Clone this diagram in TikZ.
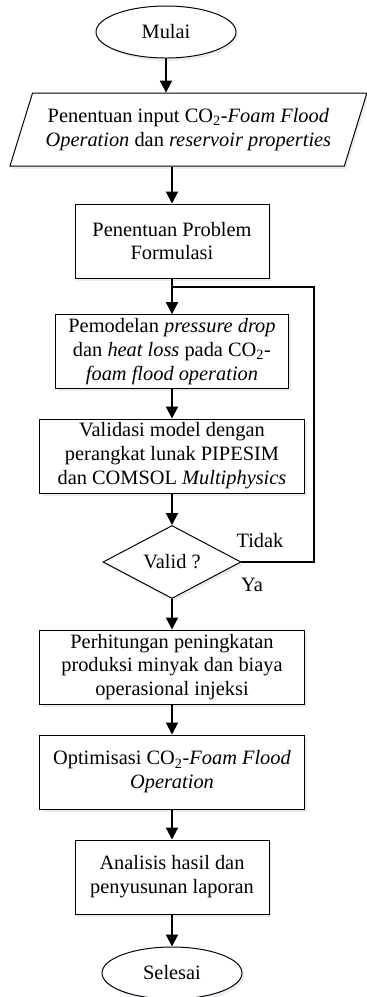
\documentclass[tikz,border=0pt]{standalone}
\usepackage{fontspec}
\setmainfont{Liberation Serif}
\usepackage{tikz}
\usetikzlibrary{shapes.geometric,arrows.meta,shadows}

\begin{document}
\begin{tikzpicture}
  [font=\fontsize{14.5}{17}\selectfont,
   base/.style={draw=black,line width=0.7pt,fill=white,align=center,inner sep=0,
                drop shadow={shadow xshift=0.05cm,shadow yshift=-0.07cm,fill=blue!25!gray!25,opacity=0.5}},
   terminal/.style={base,ellipse,minimum width=3.5cm,minimum height=1.3cm},
   process/.style={base,rectangle,minimum height=1.85cm},
   io/.style={base,trapezium,trapezium left angle=64,trapezium right angle=116,
              trapezium stretches=true,minimum width=8.95cm,minimum height=1.825cm},
   decision/.style={base,diamond,minimum width=3.45cm,minimum height=1.825cm},
   flow/.style={line width=1.4pt,-{Triangle[width=0.3cm,length=0.3cm]}},
   loop/.style={line width=1.4pt}]
  \useasboundingbox (0,0) rectangle (9.175,-24.925);
  \node[terminal] (mulai) at (4.15,-0.8) {Mulai};
  \node[io] (input) at (4.71,-3.24)
    {Penentuan input CO\textsubscript{2}-\textit{Foam Flood}\\
     \textit{Operation} dan \textit{reservoir properties}};
  \node[process,minimum width=4.85cm] (problem) at (4.3,-6.025)
    {Penentuan Problem\\Formulasi};
  \node[process,minimum width=5.825cm] (model) at (4.3,-8.79)
    {Pemodelan \textit{pressure drop}\\
     dan \textit{heat loss} pada CO\textsubscript{2}-\\
     \textit{foam flood operation}};
  \node[process,minimum width=6.625cm] (validasi) at (4.3,-11.4)
    {Validasi model dengan\\perangkat lunak PIPESIM\\
     dan COMSOL \textit{Multiphysics}};
  \node[decision] (valid) at (4.3,-14.05) {Valid ?};
  \node[process,minimum width=6.625cm] (hitung) at (4.3,-16.675)
    {Perhitungan peningkatan\\produksi minyak dan biaya\\operasional injeksi};
  \node[process,minimum width=6.625cm] (optim) at (4.3,-19.3)
    {Optimisasi CO\textsubscript{2}-\textit{Foam Flood}\\\textit{Operation}};
  \node[process,minimum width=4.85cm] (analisis) at (4.3,-21.925)
    {Analisis hasil dan\\penyusunan laporan};
  \node[terminal] (selesai) at (4.3,-24.325) {Selesai};
  \node (tidak) at (6.5,-13.525) {Tidak};
  \node (ya) at (6.3,-14.625) {Ya};
  \coordinate (join) at (4.3,-7.175);
  \coordinate (turn) at (7.85,-7.175);
  \draw[flow] (mulai) to (mulai.south |- input.north);
  \draw[flow] (problem.south |- input.south) to (problem);
  \draw[flow] (problem) to (model);
  \draw[flow] (model) to (validasi);
  \draw[flow] (validasi) to (valid);
  \draw[loop] (valid.east) -| (turn) -- (join);
  \draw[flow] (valid) to (hitung);
  \draw[flow] (hitung) to (optim);
  \draw[flow] (optim) to (analisis);
  \draw[flow] (analisis) to (selesai);
\end{tikzpicture}
\end{document}
